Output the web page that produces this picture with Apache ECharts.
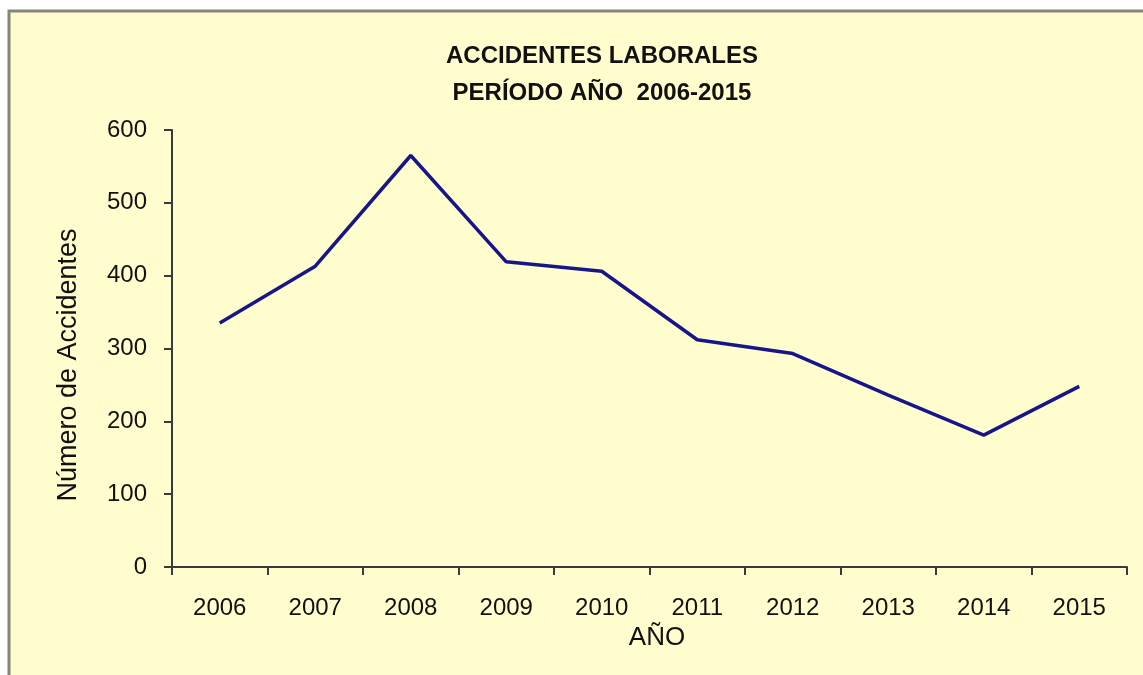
<!DOCTYPE html>
<html>
<head>
<meta charset="utf-8">
<script src="https://cdn.jsdelivr.net/npm/echarts@6/dist/echarts.min.js"></script>
<style>
html,body{margin:0;padding:0;background:#ffffff;}
#chart{width:1143px;height:675px;}
</style>
</head>
<body>
<div id="chart"></div>
<script>
const years = ['2006','2007','2008','2009','2010','2011','2012','2013','2014','2015'];
const accidentes = [335, 413, 565, 419, 406, 312, 293, 236, 181, 248];
const titleLines = ['ACCIDENTES LABORALES', 'PERÍODO AÑO  2006-2015'];
const yAxisName = 'Número de Accidentes';
const xAxisName = 'AÑO';

const regular = "'Liberation Sans', Arial, sans-serif";

const chart = echarts.init(document.getElementById('chart'), null, {renderer: 'canvas'});
chart.setOption({
  backgroundColor: '#ffffff',
  animation: false,
  graphic: [{
    type: 'rect',
    z: -10,
    shape: {x: 9, y: 11, width: 1200, height: 700},
    style: {fill: '#FFFDCD', stroke: '#85857a', lineWidth: 3}
  }],
  title: {
    text: titleLines.join('\n'),
    left: 597,
    top: 33,
    textAlign: 'center',
    textStyle: {
      fontFamily: regular,
      fontWeight: 'bold',
      fontSize: 24,
      lineHeight: 37,
      color: '#111111'
    }
  },
  grid: {left: 172, right: 16, top: 130, bottom: 108, containLabel: false},
  xAxis: {
    type: 'category',
    data: years,
    boundaryGap: true,
    name: xAxisName,
    nameLocation: 'middle',
    nameGap: 52,
    nameTextStyle: {fontFamily: regular, fontSize: 26, color: '#111111', padding: [0, 0, 0, 15]},
    axisLine: {lineStyle: {color: '#3a3a3a', width: 2}},
    axisTick: {show: true, length: 8, inside: false, lineStyle: {color: '#3a3a3a', width: 2}},
    axisLabel: {fontFamily: regular, fontSize: 24, color: '#111111', margin: 29},
    splitLine: {show: false}
  },
  yAxis: {
    type: 'value',
    min: 0,
    max: 600,
    interval: 100,
    name: yAxisName,
    nameLocation: 'middle',
    nameGap: 90,
    nameRotate: 90,
    nameTextStyle: {fontFamily: regular, fontSize: 27, color: '#111111', padding: [0, 33, 0, 0]},
    axisLine: {show: true, lineStyle: {color: '#3a3a3a', width: 2}},
    axisTick: {show: true, length: 8, inside: false, lineStyle: {color: '#3a3a3a', width: 2}},
    axisLabel: {fontFamily: regular, fontSize: 24, color: '#111111', margin: 25},
    splitLine: {show: false}
  },
  series: [{
    type: 'line',
    data: accidentes,
    symbol: 'none',
    smooth: false,
    lineStyle: {color: '#16168a', width: 3.5},
    itemStyle: {color: '#16168a'}
  }]
});
</script>
</body>
</html>
